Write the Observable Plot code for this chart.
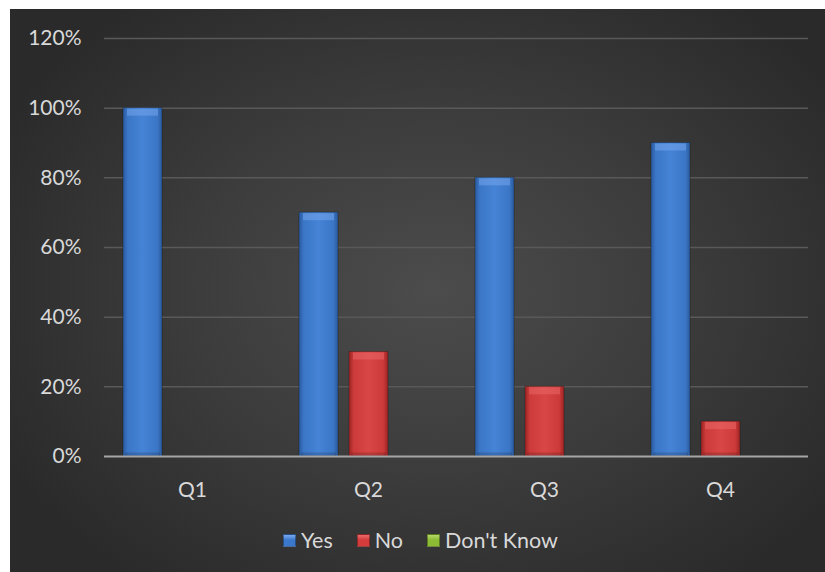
<!DOCTYPE html>
<html>
<head>
<meta charset="utf-8">
<script src="https://cdn.jsdelivr.net/npm/d3@7"></script>
<script src="https://cdn.jsdelivr.net/npm/@observablehq/plot@0.6"></script>
<style>
  html, body { margin: 0; padding: 0; background: #ffffff; }
  #chart {
    position: absolute; left: 10px; top: 9px; width: 815px; height: 563px;
    background: radial-gradient(ellipse 60% 65% at 52% 50%, #4c4c4c 0%, #3c3c3c 50%, #2a2a2a 100%);
    font-family: Lato, "Open Sans", sans-serif;
    overflow: hidden;
  }
  #legend {
    display: flex; justify-content: center; align-items: center; gap: 0;
    margin-top: 7px; color: #d9d9d9; font-size: 21.5px; line-height: 28px;
    padding-left: 6px;
  }
  .item { display: flex; align-items: center; margin: 0 12px; }
  .sw { width: 13px; height: 13px; margin-right: 5px; box-sizing: border-box; border: 1px solid rgba(0,0,0,0.35); }
</style>
</head>
<body>
<div id="chart"></div>
<script>
const quarters = ["Q1", "Q2", "Q3", "Q4"];
const series = ["Yes", "No", "Don't Know"];
const yesValues = [1.0, 0.7, 0.8, 0.9];
const noValues = [0, 0.3, 0.2, 0.1];
const dontKnowValues = [0, 0, 0, 0];
const yTicks = [0, 0.2, 0.4, 0.6, 0.8, 1.0, 1.2];

const seriesValues = {"Yes": yesValues, "No": noValues, "Don't Know": dontKnowValues};
const fills = {"Yes": "url(#gYes)", "No": "url(#gNo)", "Don't Know": "url(#gDK)"};
const bevels = {"Yes": "#7aaaf0", "No": "#ec6a6a", "Don't Know": "#b5da6a"};
const legendColors = {"Yes": "#3b78cc", "No": "#d43b3b", "Don't Know": "#8cbc34"};

const data = [];
quarters.forEach((q, i) => series.forEach(s => data.push({q, s, v: seriesValues[s][i]})));
const shown = data.filter(d => d.v > 0);

const marks = [
  Plot.ruleY(yTicks.filter(t => t > 0), {stroke: "#595959", strokeWidth: 1.5}),
];
for (const s of series) {
  const sub = shown.filter(d => d.s === s);
  marks.push(Plot.barY(sub, {fx: "q", x: "s", y: "v", fill: fills[s], stroke: "#000", strokeOpacity: 0.25, strokeWidth: 1}));
  marks.push(Plot.tickY(sub, {fx: "q", x: "s", y: "v", stroke: bevels[s], strokeWidth: 7, dy: 4, insetLeft: 4, insetRight: 4, strokeOpacity: 0.5}));
  marks.push(Plot.tickY(sub, {fx: "q", x: "s", y: 0, stroke: "#000", strokeOpacity: 0.15, strokeWidth: 4, dy: -2, insetLeft: 2, insetRight: 2}));
}
marks.push(Plot.ruleY([0], {stroke: "#a6a6a6", strokeWidth: 2.2}));
marks.push(Plot.axisY({ticks: yTicks, tickFormat: d3.format(".0%"), tickSize: 0, tickPadding: 23, fontSize: 21, fill: "#d9d9d9", label: null}));
marks.push(Plot.axisFx({anchor: "bottom", tickSize: 0, tickPadding: 26, fontSize: 21, fill: "#d9d9d9", label: null}));

const svg = Plot.plot({
  width: 815,
  height: 510,
  marginLeft: 94,
  marginRight: 17,
  marginTop: 29,
  marginBottom: 63,
  style: {background: "transparent", fontFamily: "Lato, 'Open Sans', sans-serif", color: "#d9d9d9", overflow: "visible"},
  fx: {domain: quarters, padding: 0, label: null},
  x: {domain: series, paddingInner: 0.22, paddingOuter: 0.37, axis: null},
  y: {domain: [0, 1.2], axis: null},
  marks
});

// gradient defs for beveled bars
const defs = d3.select(svg).insert("defs", ":first-child");
function grad(id, edge, mid, light) {
  const g = defs.append("linearGradient").attr("id", id).attr("x1", "0").attr("x2", "1").attr("y1", "0").attr("y2", "0");
  g.append("stop").attr("offset", "0%").attr("stop-color", edge);
  g.append("stop").attr("offset", "12%").attr("stop-color", mid);
  g.append("stop").attr("offset", "50%").attr("stop-color", light);
  g.append("stop").attr("offset", "88%").attr("stop-color", mid);
  g.append("stop").attr("offset", "100%").attr("stop-color", edge);
}
grad("gYes", "#2a5a9e", "#3b76c6", "#4583d6");
grad("gNo", "#9c2424", "#cc3a3a", "#d94646");
grad("gDK", "#5f8a1e", "#84b332", "#92c23c");

const chart = document.getElementById("chart");
chart.appendChild(svg);

const legend = document.createElement("div");
legend.id = "legend";
for (const s of series) {
  const item = document.createElement("div");
  item.className = "item";
  const sw = document.createElement("span");
  sw.className = "sw";
  sw.style.background = `linear-gradient(180deg, ${bevels[s]} 0%, ${legendColors[s]} 45%, ${legendColors[s]} 100%)`;
  const t = document.createElement("span");
  t.textContent = s;
  item.appendChild(sw);
  item.appendChild(t);
  legend.appendChild(item);
}
chart.appendChild(legend);
</script>
</body>
</html>
